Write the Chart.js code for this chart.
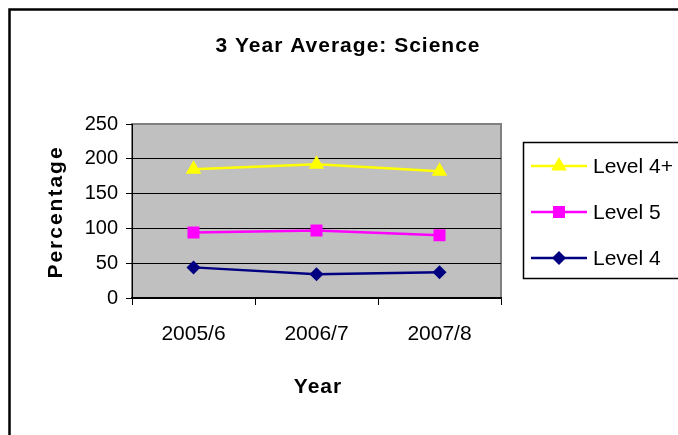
<!DOCTYPE html>
<html>
<head>
<meta charset="utf-8">
<title>3 Year Average: Science</title>
<style>
  html, body { margin: 0; padding: 0; background: #fff; }
  #c { display: block; }
</style>
<script src="https://cdn.jsdelivr.net/npm/chart.js@4/dist/chart.umd.min.js"></script>
</head>
<body>
<canvas id="c" width="678" height="435"></canvas>
<script>
// Categories and series values
const years = ['2005/6', '2006/7', '2007/8'];
const level4Plus = [185, 192, 182];
const level5 = [94, 97, 90];
const level4 = [44, 34, 37];
// Value axis ticks
const yTicks = [0, 50, 100, 150, 200, 250];

const FONT = '"Liberation Sans", Arial, Helvetica, sans-serif';

function drawMarker(ctx, style, radius, x, y) {
  if (Chart.helpers && Chart.helpers.drawPoint) {
    Chart.helpers.drawPoint(ctx, { pointStyle: style, radius: radius, rotation: 0, borderWidth: 0 }, x, y);
    return;
  }
  ctx.beginPath();
  if (style === 'triangle') {
    for (let i = 0; i < 3; i++) {
      const a = i * 2 * Math.PI / 3;
      const px = x + Math.sin(a) * radius, py = y - Math.cos(a) * radius;
      i ? ctx.lineTo(px, py) : ctx.moveTo(px, py);
    }
  } else if (style === 'rect') {
    const s = Math.SQRT1_2 * radius;
    ctx.rect(x - s, y - s, 2 * s, 2 * s);
  } else {
    ctx.moveTo(x - radius, y); ctx.lineTo(x, y - radius);
    ctx.lineTo(x + radius, y); ctx.lineTo(x, y + radius);
  }
  ctx.closePath();
  ctx.fill();
}

// Frame, plot background, titles and legend box
const decor = {
  id: 'decor',
  beforeDraw(chart) {
    const { ctx, chartArea: a } = chart;
    ctx.save();
    ctx.fillStyle = '#fff';
    ctx.fillRect(0, 0, chart.width, chart.height);
    ctx.strokeStyle = '#000';
    ctx.lineWidth = 2.5;
    ctx.strokeRect(9.5, 9.5, chart.width + 40, chart.height + 40);
    ctx.fillStyle = '#c0c0c0';
    ctx.fillRect(a.left, a.top, a.right - a.left, a.bottom - a.top);
    ctx.strokeStyle = '#808080';
    ctx.lineWidth = 2;
    ctx.strokeRect(a.left, a.top, a.right - a.left, a.bottom - a.top);
    ctx.restore();
  },
  afterDraw(chart) {
    const { ctx, chartArea: a } = chart;
    ctx.save();
    ctx.fillStyle = '#000';

    // chart title
    ctx.font = 'bold 21px ' + FONT;
    ctx.letterSpacing = '1px';
    ctx.textAlign = 'center';
    ctx.textBaseline = 'alphabetic';
    ctx.fillText('3 Year Average: Science', 348, 51.5);

    // x axis title
    ctx.fillText('Year', 318, 393);

    // y axis title
    ctx.save();
    ctx.translate(62, (a.top + a.bottom) / 2 + 1);
    ctx.rotate(-Math.PI / 2);
    ctx.letterSpacing = '2px';
    ctx.fillText('Percentage', 0, 0);
    ctx.restore();

    // legend
    ctx.letterSpacing = '0px';
    ctx.strokeStyle = '#000';
    ctx.lineWidth = 1.5;
    ctx.strokeRect(523.5, 142.5, 200, 136);
    const rowY = [166, 212, 258];
    chart.data.datasets.forEach((ds, i) => {
      const y = rowY[i];
      ctx.strokeStyle = ds.borderColor;
      ctx.lineWidth = ds.borderWidth;
      ctx.beginPath();
      ctx.moveTo(531, y);
      ctx.lineTo(587, y);
      ctx.stroke();
      ctx.fillStyle = ds.pointBackgroundColor;
      drawMarker(ctx, ds.pointStyle, ds.pointRadius, 559, y);
      ctx.fillStyle = '#000';
      ctx.font = '21px ' + FONT;
      ctx.textAlign = 'left';
      ctx.textBaseline = 'middle';
      ctx.fillText(ds.label, 593, y + 1);
    });
    ctx.restore();
  }
};

new Chart(document.getElementById('c'), {
  type: 'line',
  data: {
    labels: years,
    datasets: [
      { label: 'Level 4+', data: level4Plus, borderColor: '#ffff00', pointBackgroundColor: '#ffff00',
        pointStyle: 'triangle', pointRadius: 9, borderWidth: 2.5, pointBorderWidth: 0 },
      { label: 'Level 5', data: level5, borderColor: '#ff00ff', pointBackgroundColor: '#ff00ff',
        pointStyle: 'rect', pointRadius: 8.5, borderWidth: 2.5, pointBorderWidth: 0 },
      { label: 'Level 4', data: level4, borderColor: '#000080', pointBackgroundColor: '#000080',
        pointStyle: 'rectRot', pointRadius: 7, borderWidth: 2.5, pointBorderWidth: 0 }
    ]
  },
  options: {
    responsive: false,
    animation: false,
    devicePixelRatio: 1,
    tension: 0,
    layout: { padding: { left: 0, right: 177, top: 124, bottom: 0 } },
    plugins: { legend: { display: false }, title: { display: false }, tooltip: { enabled: false } },
    elements: { point: { hoverRadius: 0 } },
    scales: {
      x: {
        type: 'category',
        offset: true,
        grid: { offset: true, drawOnChartArea: false, drawTicks: true, tickLength: 7, tickColor: '#000', tickWidth: 1 },
        border: { color: '#000', width: 1.5 },
        ticks: { color: '#000', font: { family: FONT, size: 21 }, padding: 17, maxRotation: 0 },
        afterFit(s) { s.height = 137; }
      },
      y: {
        min: yTicks[0],
        max: yTicks[yTicks.length - 1],
        ticks: { stepSize: yTicks[1] - yTicks[0], color: '#000', font: { family: FONT, size: 20 }, padding: 8 },
        grid: {
          color: c => (c.tick && c.tick.value === yTicks[yTicks.length - 1]) ? 'rgba(0,0,0,0)' : '#000',
          tickColor: '#000', tickLength: 6, lineWidth: 1
        },
        border: { color: '#000', width: 1 },
        afterFit(s) { s.width = 132; }
      }
    }
  },
  plugins: [decor]
});
</script>
</body>
</html>
